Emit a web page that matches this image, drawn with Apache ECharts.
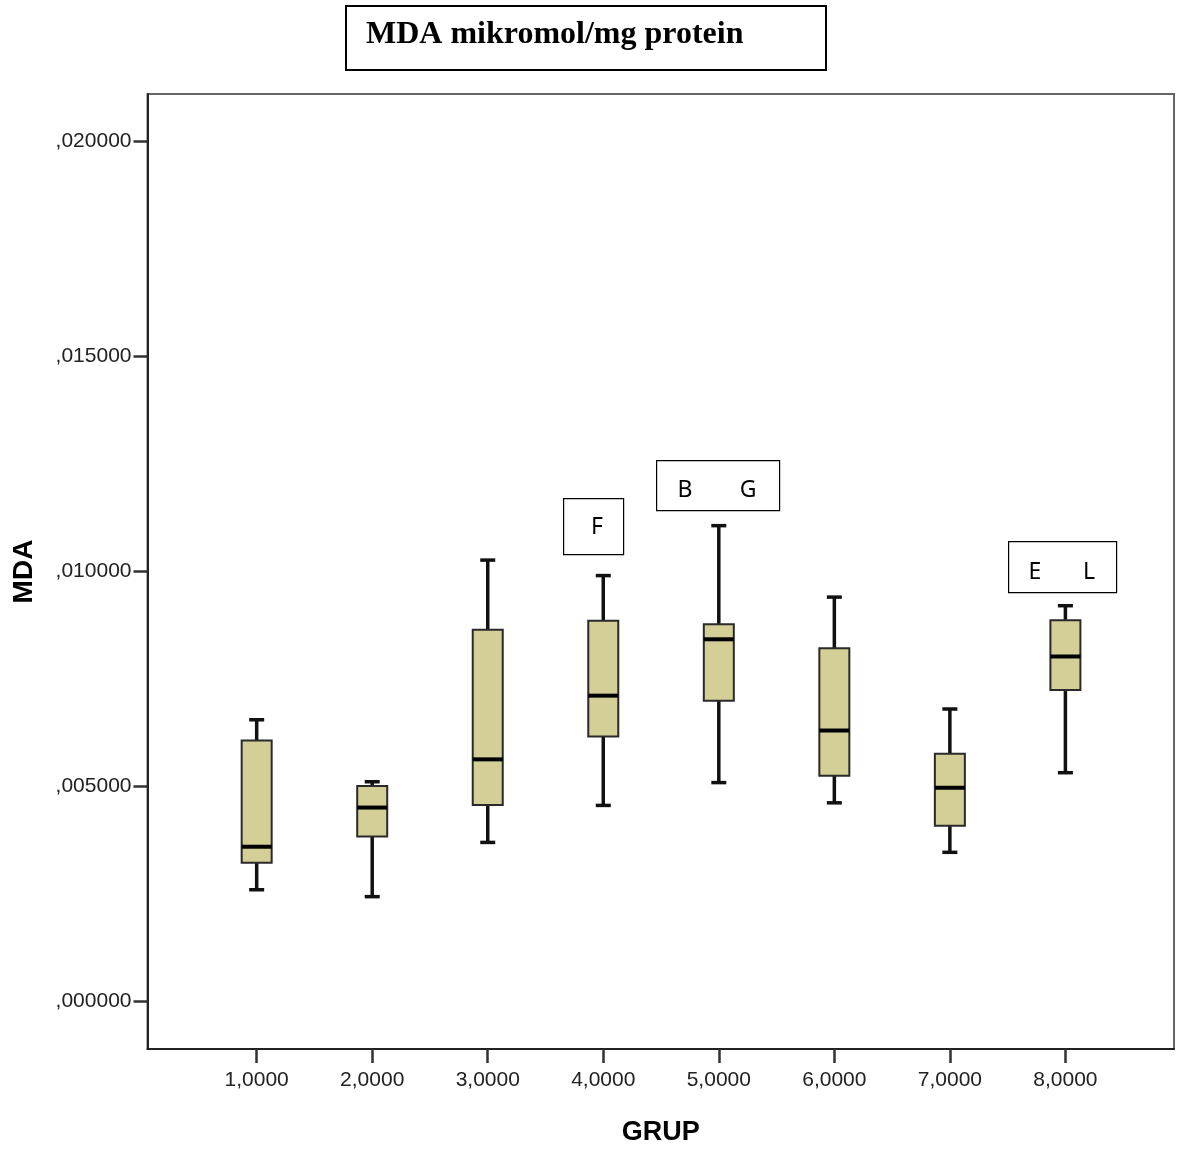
<!DOCTYPE html>
<html>
<head>
<meta charset="utf-8">
<script src="https://cdn.jsdelivr.net/npm/echarts@6/dist/echarts.min.js"></script>
<style>
  html, body { margin: 0; padding: 0; background: #fff; }
  #chart { width: 1177px; height: 1150px; }
</style>
</head>
<body>
<div id="chart"></div>
<script>
// ---- Data ----
const groups   = [1, 2, 3, 4, 5, 6, 7, 8];
const minVals  = [0.00260, 0.00244, 0.00370, 0.00456, 0.00509, 0.00462, 0.00347, 0.00532];
const q1Vals   = [0.00323, 0.00384, 0.00457, 0.00616, 0.00699, 0.00525, 0.00409, 0.00724];
const medVals  = [0.00360, 0.00451, 0.00563, 0.00711, 0.00842, 0.00630, 0.00497, 0.00802];
const q3Vals   = [0.00607, 0.00501, 0.00864, 0.00885, 0.00877, 0.00821, 0.00576, 0.00886];
const maxVals  = [0.00655, 0.00511, 0.01026, 0.00990, 0.01106, 0.00940, 0.00680, 0.00920];
const xTicks   = [1, 2, 3, 4, 5, 6, 7, 8];
const yTicks   = [0, 0.005, 0.010, 0.015, 0.020];

const boxData = groups.map((g, i) => [g, minVals[i], q1Vals[i], medVals[i], q3Vals[i], maxVals[i]]);

function fmtY(v) {
  return v.toFixed(6).replace(/^0/, '').replace('.', ',');
}
function fmtX(v) {
  return v.toFixed(4).replace('.', ',');
}

const chart = echarts.init(document.getElementById('chart'));

function renderBox(params, api) {
  const x = api.value(0);
  const pMin = api.coord([x, api.value(1)]);
  const pQ1  = api.coord([x, api.value(2)]);
  const pMed = api.coord([x, api.value(3)]);
  const pQ3  = api.coord([x, api.value(4)]);
  const pMax = api.coord([x, api.value(5)]);
  const cx = pMed[0];
  const hw = 15;   // half box width
  const cw = 7.5;  // half cap width
  const lineStyle = { stroke: '#111', lineWidth: 3.5 };
  return {
    type: 'group',
    children: [
      { type: 'line', shape: { x1: cx, y1: pQ3[1], x2: cx, y2: pMax[1] }, style: lineStyle },
      { type: 'line', shape: { x1: cx, y1: pQ1[1], x2: cx, y2: pMin[1] }, style: lineStyle },
      { type: 'line', shape: { x1: cx - cw, y1: pMax[1], x2: cx + cw, y2: pMax[1] }, style: lineStyle },
      { type: 'line', shape: { x1: cx - cw, y1: pMin[1], x2: cx + cw, y2: pMin[1] }, style: lineStyle },
      { type: 'rect', shape: { x: cx - hw, y: pQ3[1], width: 2 * hw, height: pQ1[1] - pQ3[1] },
        style: { fill: '#d3cf97', stroke: '#2a2a2a', lineWidth: 2 } },
      { type: 'line', shape: { x1: cx - hw, y1: pMed[1], x2: cx + hw, y2: pMed[1] },
        style: { stroke: '#000', lineWidth: 4 } }
    ]
  };
}

const option = {
  animation: false,
  backgroundColor: '#fff',
  grid: {
    left: 147.5, right: 3, top: 94, bottom: 101,
    containLabel: false,
    outerBoundsMode: 'none',
    show: true, borderColor: '#666', borderWidth: 2, backgroundColor: '#fff'
  },
  xAxis: {
    type: 'value',
    min: 0.055, max: 8.94,
    name: 'GRUP',
    nameLocation: 'middle',
    nameGap: 70,
    nameTextStyle: { fontFamily: 'Liberation Sans', fontWeight: 'bold', fontSize: 27, color: '#000' },
    axisLine: { show: true, onZero: false, lineStyle: { color: '#222', width: 2 } },
    axisTick: { show: true, length: 14, customValues: xTicks, lineStyle: { color: '#333', width: 2.5 } },
    axisLabel: { customValues: xTicks, formatter: fmtX, margin: 21, fontFamily: 'Liberation Sans', fontSize: 21, color: '#222' },
    splitLine: { show: false }
  },
  yAxis: {
    type: 'value',
    min: -0.0011, max: 0.02109,
    name: 'MDA',
    nameLocation: 'middle',
    nameGap: 109,
    nameRotate: 90,
    nameTextStyle: { fontFamily: 'Liberation Sans', fontWeight: 'bold', fontSize: 28, color: '#000' },
    axisLine: { show: true, onZero: false, lineStyle: { color: '#222', width: 2 } },
    axisTick: { show: true, length: 14, customValues: yTicks, lineStyle: { color: '#333', width: 2.5 } },
    axisLabel: { customValues: yTicks, formatter: fmtY, margin: 16, fontFamily: 'Liberation Sans', fontSize: 21, color: '#222' },
    splitLine: { show: false }
  },
  series: [{
    type: 'custom',
    renderItem: renderBox,
    data: boxData,
    encode: { x: 0, y: [1, 2, 3, 4, 5] },
    clip: false
  }],
  graphic: [
    // title box
    { type: 'rect', left: 345, top: 5, shape: { width: 480, height: 64 },
      style: { fill: '#fff', stroke: '#000', lineWidth: 2 } },
    { type: 'text', left: 366, top: 19,
      style: { text: 'MDA mikromol/mg protein', font: 'bold 32px "Liberation Serif", "Times New Roman", serif', fill: '#000' } },
    // annotation F
    { type: 'rect', left: 563, top: 498, shape: { width: 60, height: 56 },
      style: { fill: '#fff', stroke: '#000', lineWidth: 1.2 } },
    { type: 'text', x: 597, y: 527,
      style: { text: 'F', font: '23px "Noto Sans", sans-serif', fill: '#000', align: 'center', verticalAlign: 'middle' } },
    // annotation B G
    { type: 'rect', left: 656, top: 460, shape: { width: 123, height: 50 },
      style: { fill: '#fff', stroke: '#000', lineWidth: 1.2 } },
    { type: 'text', x: 685, y: 490,
      style: { text: 'B', font: '23px "Noto Sans", sans-serif', fill: '#000', align: 'center', verticalAlign: 'middle' } },
    { type: 'text', x: 748, y: 490,
      style: { text: 'G', font: '23px "Noto Sans", sans-serif', fill: '#000', align: 'center', verticalAlign: 'middle' } },
    // annotation E L
    { type: 'rect', left: 1008, top: 541, shape: { width: 108, height: 51 },
      style: { fill: '#fff', stroke: '#000', lineWidth: 1.2 } },
    { type: 'text', x: 1035, y: 572,
      style: { text: 'E', font: '23px "Noto Sans", sans-serif', fill: '#000', align: 'center', verticalAlign: 'middle' } },
    { type: 'text', x: 1089, y: 572,
      style: { text: 'L', font: '23px "Noto Sans", sans-serif', fill: '#000', align: 'center', verticalAlign: 'middle' } }
  ]
};

chart.setOption(option);
</script>
</body>
</html>
